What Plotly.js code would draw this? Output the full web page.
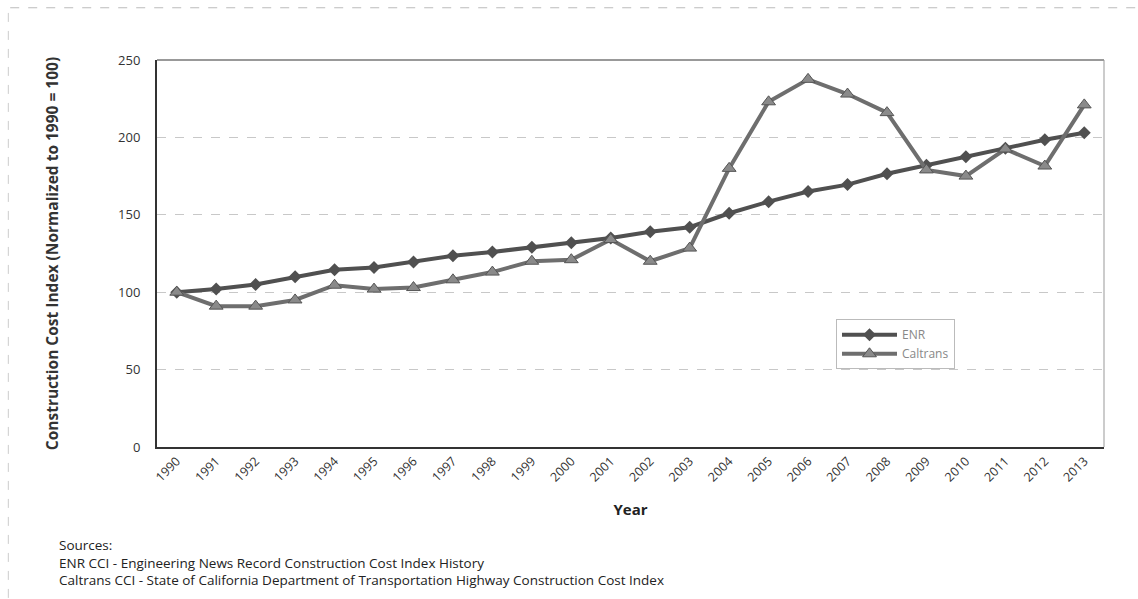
<!DOCTYPE html>
<html><head><meta charset="utf-8">
<script src="https://cdn.plot.ly/plotly-3.0.1.min.js"></script>
<style>body{margin:0;background:#fff}#c{width:1138px;height:599px}</style>
</head><body><div id="c"></div>
<script>
const years = ['1990','1991','1992','1993','1994','1995','1996','1997','1998','1999','2000','2001','2002','2003','2004','2005','2006','2007','2008','2009','2010','2011','2012','2013'];
const enr = [100,102,105,110,114.5,116,119.5,123.5,126,129,132,135,139,142,151,158.5,165,169.5,176.5,182,187.5,193,198.5,203];
const caltrans = [100,91,91,95,104.5,102,103,108,113,120,121,134,120,128.5,180,223,237.5,228,216,179,175,192.5,181.5,221];
const yTicks = [0,50,100,150,200,250];

const font = "Open Sans, Liberation Sans, sans-serif";
const traces = [
  {x: years, y: enr, name: 'ENR', type: 'scatter', mode: 'lines+markers',
   line: {color: '#505050', width: 4}, marker: {symbol: 'diamond', size: 10, color: '#505050'}},
  {x: years, y: caltrans, name: 'Caltrans', type: 'scatter', mode: 'lines+markers',
   line: {color: '#6e6e6e', width: 4}, marker: {symbol: 'triangle-up', size: 12, color: '#8a8a8a', line: {color: '#555', width: 1}}}
];
const layout = {
  width: 1138, height: 599,
  margin: {l: 157, r: 34, t: 60, b: 152},
  paper_bgcolor: '#fff', plot_bgcolor: '#fff',
  font: {family: font, color: '#222', size: 12},
  showlegend: true,
  legend: {x: 0.717, y: 0.33, xanchor: 'left', yanchor: 'top', bgcolor: 'rgba(255,255,255,0.9)',
    bordercolor: '#bbb', borderwidth: 1, font: {size: 12, color: '#888'}, itemwidth: 55, tracegroupgap: 2},
  xaxis: {type: 'category', range: [-0.5, 23.5], tickangle: -45, tickfont: {size: 12.5, color: '#333'}, showgrid: false,
    showline: true, linecolor: '#333', linewidth: 2, ticks: '', mirror: false,
    title: {text: '<b>Year</b>', font: {size: 15, color: '#222'}, standoff: 20}},
  yaxis: {range: [0, 250], tickvals: yTicks, tickfont: {size: 13, color: '#333'}, ticklabelstandoff: 12,
    showgrid: true, gridcolor: '#c8c8c8', griddash: 'dash', gridwidth: 1,
    showline: true, linecolor: '#333', linewidth: 2, zeroline: false, ticks: '',
    title: {text: '<b>Construction Cost Index (Normalized to 1990 = 100)</b>', font: {size: 15.5, color: '#333'}, standoff: 56}},
  shapes: [
    {type: 'line', xref: 'paper', yref: 'paper', x0: 0, x1: 1, y0: 1, y1: 1, line: {color: '#777', width: 1.5}},
    {type: 'line', xref: 'paper', yref: 'paper', x0: 1, x1: 1, y0: 0, y1: 1, line: {color: '#999', width: 1}},
    {type: 'line', xref: 'paper', yref: 'paper', x0: -0.155, x1: 1.04, y0: 1.135, y1: 1.135, line: {color: '#bbb', width: 1, dash: 'dash'}},
    {type: 'line', xref: 'paper', yref: 'paper', x0: -0.157, x1: -0.157, y0: -0.39, y1: 1.13, line: {color: '#ccc', width: 1, dash: 'dash'}}
  ],
  annotations: [
    {xref: 'paper', yref: 'paper', x: -0.106, y: -0.225, xanchor: 'left', yanchor: 'top', align: 'left', showarrow: false,
     font: {size: 13.5, color: '#222', family: font},
     text: 'Sources:<br>ENR CCI - Engineering News Record Construction Cost Index History<br>Caltrans CCI - State of California Department of Transportation Highway Construction Cost Index'}
  ]
};
Plotly.newPlot('c', traces, layout, {displayModeBar: false, staticPlot: true});
</script></body></html>
